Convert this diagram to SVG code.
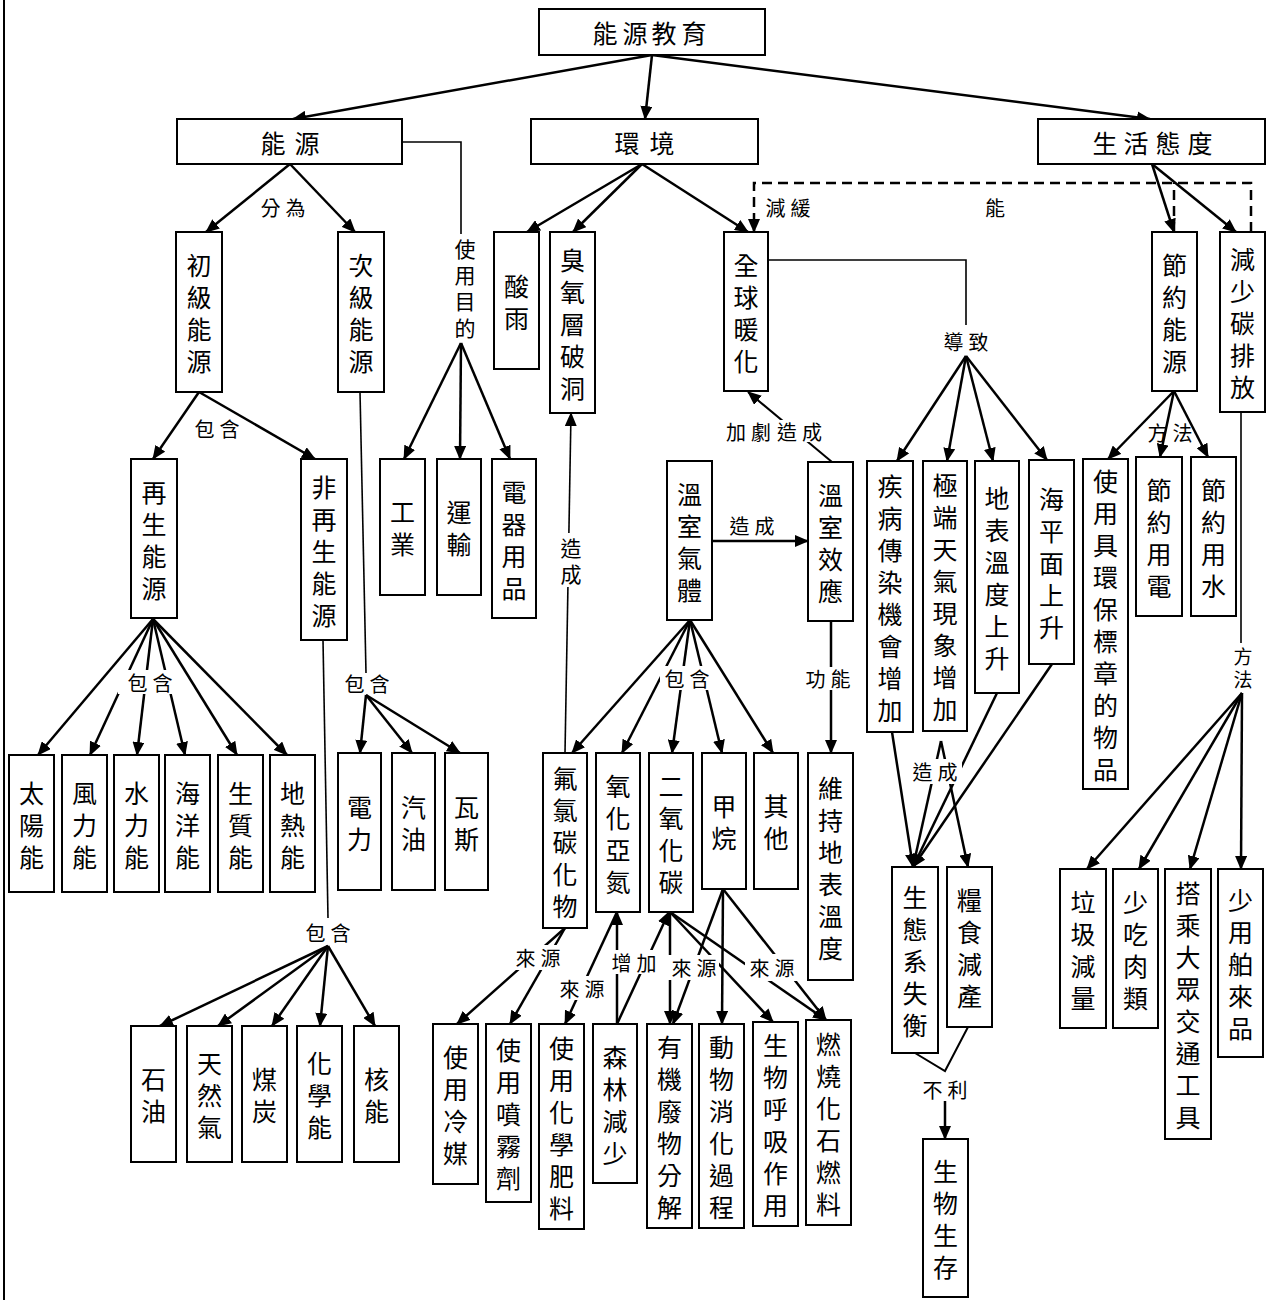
<svg xmlns="http://www.w3.org/2000/svg" width="1267" height="1300" viewBox="0 0 1267 1300">
<defs>
<marker id="ah" markerUnits="userSpaceOnUse" markerWidth="14" markerHeight="12" viewBox="0 0 14 12" refX="13" refY="6" orient="auto"><path d="M0,0 L14,6 L0,12 z" fill="#000"/></marker>
<style>
.n rect{fill:#fff;stroke:#000;stroke-width:2}
text{font-family:"Noto Sans CJK TC","Noto Sans CJK SC",sans-serif;fill:#000;text-anchor:middle;dominant-baseline:central}
.n text{font-size:25px}
.lb text{font-size:20px}
.lb .v{font-size:21px}
.lb rect{fill:#fff}
.c line,.c polyline,.c path{stroke:#000;stroke-width:2.5;fill:none}
.c .a{marker-end:url(#ah)}
.c .t{stroke-width:1.6}
.c .d{stroke-dasharray:10 6}
</style>
</defs>
<rect width="1267" height="1300" fill="#fff"/>
<line x1="4" y1="0" x2="4" y2="1300" stroke="#000" stroke-width="2"/>

<g id="connectors" class="c">
<line class="a" x1="652" y1="55" x2="293" y2="119"/>
<line class="a" x1="652" y1="55" x2="645" y2="119"/>
<line class="a" x1="652" y1="55" x2="1150" y2="119"/>
<line class="a" x1="290" y1="164" x2="206" y2="232"/>
<line class="a" x1="290" y1="164" x2="355" y2="232"/>
<polyline class="t" points="402,142 461,142 461,234"/>
<line class="a" x1="461" y1="343" x2="404" y2="459"/>
<line class="a" x1="461" y1="343" x2="460" y2="459"/>
<line class="a" x1="461" y1="343" x2="510" y2="459"/>
<line class="a" x1="199" y1="392" x2="153" y2="459"/>
<line class="a" x1="199" y1="392" x2="315" y2="459"/>
<line class="a" x1="153" y1="619" x2="38" y2="755"/>
<line class="a" x1="153" y1="619" x2="90" y2="755"/>
<line class="a" x1="153" y1="619" x2="137" y2="755"/>
<line class="a" x1="153" y1="619" x2="185" y2="755"/>
<line class="a" x1="153" y1="619" x2="237" y2="755"/>
<line class="a" x1="153" y1="619" x2="287" y2="755"/>
<line class="t" x1="360" y1="392" x2="366" y2="673"/>
<line class="a" x1="366" y1="695" x2="360" y2="753"/>
<line class="a" x1="366" y1="695" x2="412" y2="753"/>
<line class="a" x1="366" y1="695" x2="460" y2="753"/>
<line class="t" x1="323" y1="640" x2="328" y2="918"/>
<line class="a" x1="328" y1="946" x2="160" y2="1026"/>
<line class="a" x1="328" y1="946" x2="218" y2="1026"/>
<line class="a" x1="328" y1="946" x2="272" y2="1026"/>
<line class="a" x1="328" y1="946" x2="320" y2="1026"/>
<line class="a" x1="328" y1="946" x2="375" y2="1026"/>
<line class="a" x1="642" y1="164" x2="527" y2="232"/>
<line class="a" x1="642" y1="164" x2="573" y2="232"/>
<line class="a" x1="642" y1="164" x2="748" y2="232"/>
<line class="a t" x1="565" y1="753" x2="571" y2="413"/>
<polyline class="t" points="768,260 966,260 966,325"/>
<line class="a" x1="966" y1="356" x2="897" y2="461"/>
<line class="a" x1="966" y1="356" x2="947" y2="461"/>
<line class="a" x1="966" y1="356" x2="993" y2="461"/>
<line class="a" x1="966" y1="356" x2="1047" y2="460"/>
<path class="d a" d="M1251,232 V183 H754 V232"/>
<path class="d" d="M1174,232 V183"/>
<line class="a" x1="1152" y1="164" x2="1174" y2="232"/>
<line class="a" x1="1152" y1="164" x2="1236" y2="232"/>
<line class="a" x1="1174" y1="391" x2="1108" y2="459"/>
<line class="a" x1="1174" y1="391" x2="1160" y2="457"/>
<line class="a" x1="1174" y1="391" x2="1208" y2="457"/>
<line class="t" x1="1241" y1="412" x2="1241" y2="643"/>
<line class="a" x1="1242" y1="693" x2="1087" y2="869"/>
<line class="a" x1="1242" y1="693" x2="1139" y2="869"/>
<line class="a" x1="1242" y1="693" x2="1190" y2="869"/>
<line class="a" x1="1242" y1="693" x2="1241" y2="869"/>
<line class="a" x1="712" y1="541" x2="808" y2="541"/>
<line class="a" x1="832" y1="462" x2="748" y2="392" style="stroke-width:2"/>
<line class="a" x1="690" y1="620" x2="572" y2="753"/>
<line class="a" x1="690" y1="620" x2="622" y2="753"/>
<line class="a" x1="690" y1="620" x2="672" y2="753"/>
<line class="a" x1="690" y1="620" x2="722" y2="753"/>
<line class="a" x1="690" y1="620" x2="773" y2="753"/>
<line class="a" x1="831" y1="621" x2="831" y2="753"/>
<line class="a" x1="565" y1="928" x2="457" y2="1024"/>
<line class="a" x1="565" y1="928" x2="510" y2="1024"/>
<line class="a" x1="617" y1="1024" x2="617" y2="912"/>
<line class="a" x1="617" y1="912" x2="565" y2="1024"/>
<line class="a" x1="617" y1="1024" x2="669" y2="912"/>
<line class="a" x1="670" y1="912" x2="670" y2="1024"/>
<line class="a" x1="670" y1="912" x2="773" y2="1022"/>
<line class="a" x1="670" y1="912" x2="826" y2="1020"/>
<line class="a" x1="723" y1="889" x2="673" y2="1024"/>
<line class="a" x1="723" y1="889" x2="722" y2="1024"/>
<line class="a" x1="723" y1="889" x2="826" y2="1020"/>
<line class="a" x1="892" y1="732" x2="913" y2="867"/>
<line class="a" x1="941" y1="741" x2="913" y2="867"/>
<line class="a" x1="941" y1="741" x2="968" y2="867"/>
<line class="a" x1="997" y1="693" x2="913" y2="867"/>
<line class="a" x1="1052" y1="664" x2="913" y2="867"/>
<polyline points="915,1053 945,1071 968,1027" style="stroke-width:2"/>
<line class="a" x1="945" y1="1101" x2="945" y2="1139"/>
</g>

<g id="labels" class="lb">
<text x="270.5 295.5" y="207">分為</text>
<text class="v" x="465 465 465 465" y="248 274 300 327">使用目的</text>
<text x="204.5 229.5" y="428">包含</text>
<rect x="118" y="670" width="60" height="24"/>
<text x="137.5 162.5" y="682">包含</text>
<text x="354.5 379.5" y="683">包含</text>
<text x="315.5 340.5" y="932">包含</text>
<rect x="559" y="533" width="24" height="54"/>
<text class="v" x="571 571" y="547 573">造成</text>
<text x="775.5 800.5" y="207">減緩</text>
<text x="995" y="207">能</text>
<text x="953.5 978.5" y="341">導致</text>
<rect x="721" y="420" width="106" height="22"/>
<text x="736 761 787 812" y="431">加劇造成</text>
<text x="739.5 764.5" y="525">造成</text>
<rect x="660" y="666" width="54" height="24"/>
<text x="674.5 699.5" y="678">包含</text>
<rect x="803" y="667" width="50" height="23"/>
<text x="815.5 840.5" y="678">功能</text>
<text x="1157.5 1182.5" y="432">方法</text>
<text style="font-size:19px" x="1243 1243" y="655 678">方法</text>
<rect x="908" y="759" width="54" height="25"/>
<text x="922.5 947.5" y="771">造成</text>
<text x="932.5 957.5" y="1089">不利</text>
<rect x="512" y="945" width="52" height="25"/>
<text x="525.5 550.5" y="957">來源</text>
<rect x="557" y="976" width="50" height="24"/>
<text x="569.5 594.5" y="988">來源</text>
<rect x="608" y="950" width="52" height="24"/>
<text x="621.5 646.5" y="962">增加</text>
<rect x="667" y="955" width="52" height="25"/>
<text x="681.5 706.5" y="967">來源</text>
<rect x="745" y="954" width="54" height="27"/>
<text x="759.5 784.5" y="967">來源</text>
</g>

<g id="n-root" class="n"><rect x="539" y="9" width="226" height="46"/><text x="605 635 664 694" y="32">能源教育</text></g>
<g id="n-energy" class="n"><rect x="177" y="119" width="225" height="45"/><text x="273 307" y="142">能源</text></g>
<g id="n-env" class="n"><rect x="531" y="119" width="227" height="45"/><text x="627 662" y="142">環境</text></g>
<g id="n-life" class="n"><rect x="1038" y="119" width="227" height="45"/><text x="1105 1136 1168 1200" y="142">生活態度</text></g>

<g id="n-primary" class="n"><rect x="176" y="232" width="46" height="160"/><text x="199 199 199 199" y="264 296 328 360">初級能源</text></g>
<g id="n-secondary" class="n"><rect x="338" y="232" width="46" height="160"/><text x="361 361 361 361" y="264 296 328 360">次級能源</text></g>
<g id="n-industry" class="n"><rect x="380" y="459" width="45" height="136"/><text x="402.5 402.5" y="511 543">工業</text></g>
<g id="n-transport" class="n"><rect x="437" y="459" width="44" height="136"/><text x="459 459" y="511 543">運輸</text></g>
<g id="n-appliance" class="n"><rect x="492" y="459" width="44" height="159"/><text x="514 514 514 514" y="490.5 522.5 554.5 586.5">電器用品</text></g>
<g id="n-renew" class="n"><rect x="131" y="459" width="46" height="159"/><text x="154 154 154 154" y="490.5 522.5 554.5 586.5">再生能源</text></g>
<g id="n-nonrenew" class="n"><rect x="301" y="459" width="46" height="181"/><text x="324 324 324 324 324" y="485.5 517.5 549.5 581.5 613.5">非再生能源</text></g>
<g id="n-solar" class="n"><rect x="9" y="755" width="45" height="137"/><text x="31.5 31.5 31.5" y="791.5 823.5 855.5">太陽能</text></g>
<g id="n-wind" class="n"><rect x="62" y="755" width="45" height="137"/><text x="84.5 84.5 84.5" y="791.5 823.5 855.5">風力能</text></g>
<g id="n-hydro" class="n"><rect x="114" y="755" width="45" height="137"/><text x="136.5 136.5 136.5" y="791.5 823.5 855.5">水力能</text></g>
<g id="n-ocean" class="n"><rect x="165" y="755" width="45" height="137"/><text x="187.5 187.5 187.5" y="791.5 823.5 855.5">海洋能</text></g>
<g id="n-bio" class="n"><rect x="218" y="755" width="45" height="137"/><text x="240.5 240.5 240.5" y="791.5 823.5 855.5">生質能</text></g>
<g id="n-geo" class="n"><rect x="270" y="755" width="45" height="137"/><text x="292.5 292.5 292.5" y="791.5 823.5 855.5">地熱能</text></g>
<g id="n-power" class="n"><rect x="338" y="753" width="43" height="137"/><text x="359.5 359.5" y="805.5 837.5">電力</text></g>
<g id="n-gasoline" class="n"><rect x="392" y="753" width="43" height="137"/><text x="413.5 413.5" y="805.5 837.5">汽油</text></g>
<g id="n-gas" class="n"><rect x="445" y="753" width="43" height="137"/><text x="466.5 466.5" y="805.5 837.5">瓦斯</text></g>
<g id="n-oil" class="n"><rect x="131" y="1026" width="45" height="136"/><text x="153.5 153.5" y="1078 1110">石油</text></g>
<g id="n-natgas" class="n"><rect x="187" y="1026" width="45" height="136"/><text x="209.5 209.5 209.5" y="1062 1094 1126">天然氣</text></g>
<g id="n-coal" class="n"><rect x="242" y="1026" width="45" height="136"/><text x="264.5 264.5" y="1078 1110">煤炭</text></g>
<g id="n-chem" class="n"><rect x="297" y="1026" width="45" height="136"/><text x="319.5 319.5 319.5" y="1062 1094 1126">化學能</text></g>
<g id="n-nuclear" class="n"><rect x="354" y="1026" width="45" height="136"/><text x="376.5 376.5" y="1078 1110">核能</text></g>

<g id="n-acid" class="n"><rect x="494" y="232" width="45" height="137"/><text x="516.5 516.5" y="284.5 316.5">酸雨</text></g>
<g id="n-ozone" class="n"><rect x="550" y="232" width="45" height="181"/><text x="572.5 572.5 572.5 572.5 572.5" y="258.5 290.5 322.5 354.5 386.5">臭氧層破洞</text></g>
<g id="n-warming" class="n"><rect x="724" y="232" width="44" height="159"/><text x="746 746 746 746" y="263.5 295.5 327.5 359.5">全球暖化</text></g>
<g id="n-ghg" class="n"><rect x="667" y="461" width="45" height="159"/><text x="689.5 689.5 689.5 689.5" y="492.5 524.5 556.5 588.5">溫室氣體</text></g>
<g id="n-ghe" class="n"><rect x="808" y="462" width="45" height="159"/><text x="830.5 830.5 830.5 830.5" y="493.5 525.5 557.5 589.5">溫室效應</text></g>
<g id="n-cfc" class="n"><rect x="543" y="753" width="44" height="175"/><text x="565 565 565 565 565" y="776.5 808.5 840.5 872.5 904.5">氟氯碳化物</text></g>
<g id="n-n2o" class="n"><rect x="596" y="753" width="44" height="159"/><text x="618 618 618 618" y="784.5 816.5 848.5 880.5">氧化亞氮</text></g>
<g id="n-co2" class="n"><rect x="649" y="753" width="44" height="159"/><text x="671 671 671 671" y="784.5 816.5 848.5 880.5">二氧化碳</text></g>
<g id="n-ch4" class="n"><rect x="702" y="753" width="44" height="136"/><text x="724 724" y="805 837">甲烷</text></g>
<g id="n-other" class="n"><rect x="754" y="753" width="44" height="136"/><text x="776 776" y="805 837">其他</text></g>
<g id="n-keep" class="n"><rect x="808" y="753" width="45" height="227"/><text x="830.5 830.5 830.5 830.5 830.5 830.5" y="786.5 818.5 850.5 882.5 914.5 946.5">維持地表溫度</text></g>
<g id="n-refrig" class="n"><rect x="433" y="1024" width="45" height="160"/><text x="455.5 455.5 455.5 455.5" y="1056 1088 1120 1152">使用冷媒</text></g>
<g id="n-spray" class="n"><rect x="486" y="1024" width="45" height="178"/><text x="508.5 508.5 508.5 508.5 508.5" y="1049 1081 1113 1145 1177">使用噴霧劑</text></g>
<g id="n-fert" class="n"><rect x="539" y="1024" width="45" height="205"/><text x="561.5 561.5 561.5 561.5 561.5 561.5" y="1046.5 1078.5 1110.5 1142.5 1174.5 1206.5">使用化學肥料</text></g>
<g id="n-forest" class="n"><rect x="593" y="1024" width="44" height="159"/><text x="615 615 615 615" y="1055.5 1087.5 1119.5 1151.5">森林減少</text></g>
<g id="n-waste" class="n"><rect x="647" y="1024" width="45" height="204"/><text x="669.5 669.5 669.5 669.5 669.5 669.5" y="1046 1078 1110 1142 1174 1206">有機廢物分解</text></g>
<g id="n-digest" class="n"><rect x="699" y="1024" width="45" height="204"/><text x="721.5 721.5 721.5 721.5 721.5 721.5" y="1046 1078 1110 1142 1174 1206">動物消化過程</text></g>
<g id="n-resp" class="n"><rect x="753" y="1022" width="45" height="204"/><text x="775.5 775.5 775.5 775.5 775.5 775.5" y="1044 1076 1108 1140 1172 1204">生物呼吸作用</text></g>
<g id="n-fossil" class="n"><rect x="806" y="1020" width="45" height="205"/><text x="828.5 828.5 828.5 828.5 828.5 828.5" y="1042.5 1074.5 1106.5 1138.5 1170.5 1202.5">燃燒化石燃料</text></g>
<g id="n-disease" class="n"><rect x="867" y="461" width="46" height="271"/><text x="890 890 890 890 890 890 890 890" y="484.5 516.5 548.5 580.5 612.5 644.5 676.5 708.5">疾病傳染機會增加</text></g>
<g id="n-extreme" class="n"><rect x="923" y="461" width="44" height="270"/><text x="945 945 945 945 945 945 945 945" y="484 516 548 580 612 644 676 708">極端天氣現象增加</text></g>
<g id="n-surface" class="n"><rect x="975" y="461" width="44" height="232"/><text x="997 997 997 997 997 997" y="497 529 561 593 625 657">地表溫度上升</text></g>
<g id="n-sea" class="n"><rect x="1029" y="460" width="45" height="204"/><text x="1051.5 1051.5 1051.5 1051.5 1051.5" y="498 530 562 594 626">海平面上升</text></g>
<g id="n-eco" class="n"><rect x="892" y="867" width="46" height="186"/><text x="915 915 915 915 915" y="896 928 960 992 1024">生態系失衡</text></g>
<g id="n-food" class="n"><rect x="947" y="867" width="45" height="160"/><text x="969.5 969.5 969.5 969.5" y="899 931 963 995">糧食減產</text></g>
<g id="n-survive" class="n"><rect x="923" y="1139" width="45" height="158"/><text x="945.5 945.5 945.5 945.5" y="1170 1202 1234 1266">生物生存</text></g>

<g id="n-save" class="n"><rect x="1152" y="232" width="45" height="159"/><text x="1174.5 1174.5 1174.5 1174.5" y="263.5 295.5 327.5 359.5">節約能源</text></g>
<g id="n-reduce" class="n"><rect x="1220" y="232" width="45" height="180"/><text x="1242.5 1242.5 1242.5 1242.5 1242.5" y="258 290 322 354 386">減少碳排放</text></g>
<g id="n-eco-label" class="n"><rect x="1083" y="459" width="45" height="330"/><text x="1105.5 1105.5 1105.5 1105.5 1105.5 1105.5 1105.5 1105.5 1105.5 1105.5" y="480 512 544 576 608 640 672 704 736 768">使用具環保標章的物品</text></g>
<g id="n-elec" class="n"><rect x="1136" y="457" width="46" height="159"/><text x="1159 1159 1159 1159" y="488.5 520.5 552.5 584.5">節約用電</text></g>
<g id="n-water" class="n"><rect x="1191" y="457" width="45" height="159"/><text x="1213.5 1213.5 1213.5 1213.5" y="488.5 520.5 552.5 584.5">節約用水</text></g>
<g id="n-trash" class="n"><rect x="1060" y="869" width="46" height="159"/><text x="1083 1083 1083 1083" y="900.5 932.5 964.5 996.5">垃圾減量</text></g>
<g id="n-meat" class="n"><rect x="1113" y="869" width="45" height="159"/><text x="1135.5 1135.5 1135.5 1135.5" y="900.5 932.5 964.5 996.5">少吃肉類</text></g>
<g id="n-public" class="n"><rect x="1165" y="869" width="46" height="270"/><text x="1188 1188 1188 1188 1188 1188 1188 1188" y="892 924 956 988 1020 1052 1084 1116">搭乘大眾交通工具</text></g>
<g id="n-import" class="n"><rect x="1218" y="869" width="45" height="188"/><text x="1240.5 1240.5 1240.5 1240.5 1240.5" y="899 931 963 995 1027">少用舶來品</text></g>
</svg>
